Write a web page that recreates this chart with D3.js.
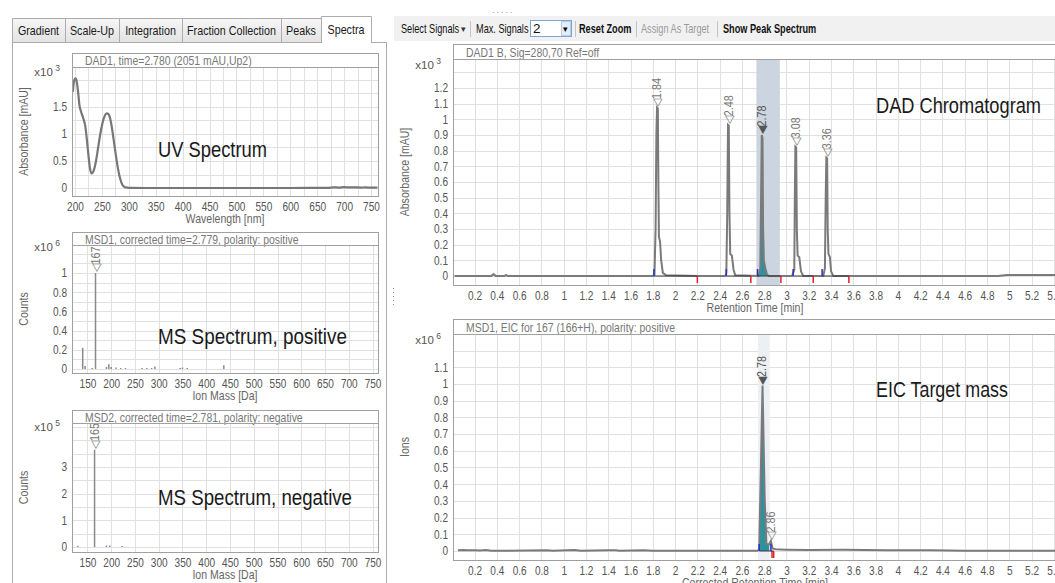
<!DOCTYPE html>
<html>
<head>
<meta charset="utf-8">
<script src="https://cdn.jsdelivr.net/npm/d3@7"></script>
<style>
  body { margin: 0; background: #fff; overflow: hidden; }
  svg { font-family: "Liberation Sans", Arial, sans-serif; }
</style>
</head>
<body>
<div id="drawing"></div>
<script>
// ---- data ----
var tabNames = ["Gradient", "Scale-Up", "Integration", "Fraction Collection", "Peaks", "Spectra"];
var tabEdges = [12, 65, 119, 182, 281, 321, 371];

// UV spectrum (x10^3 mAU)
var uvWavelength = [196, 198, 201, 203, 206, 208, 211, 215, 219, 222, 225, 228, 231, 235, 239, 243, 247, 251, 255, 259, 262, 265, 268, 272, 276, 280, 284, 288, 292, 297, 305, 330, 400, 500, 600, 650, 670, 680, 690, 700, 710, 720, 730, 740, 750, 762];
var uvAbsorbance = [1.78, 1.97, 2.03, 1.98, 1.75, 1.55, 1.42, 1.3, 1.15, 0.9, 0.6, 0.35, 0.27, 0.33, 0.5, 0.75, 1.0, 1.2, 1.33, 1.38, 1.37, 1.3, 1.15, 0.88, 0.6, 0.35, 0.17, 0.06, 0.02, 0.008, 0.003, 0, 0, 0, 0, 0.002, 0.004, 0.012, 0.008, 0.015, 0.01, 0.012, 0.008, 0.01, 0.006, 0.006];
var uvXTicks = [200, 250, 300, 350, 400, 450, 500, 550, 600, 650, 700, 750];
var uvYTicks = [0, 0.5, 1, 1.5];

// MS spectra
var msXTicks = [150, 200, 250, 300, 350, 400, 450, 500, 550, 600, 650, 700, 750];
var msPosMass = [140, 145, 160, 167, 190, 195, 200, 210, 220, 230, 265, 275, 285, 292, 345, 350, 360, 437];
var msPosCounts = [0.22, 0.03, 0.01, 1.0, 0.02, 0.05, 0.02, 0.015, 0.01, 0.01, 0.01, 0.01, 0.01, 0.025, 0.01, 0.015, 0.01, 0.04];
var msPosYTicks = [0, 0.2, 0.4, 0.6, 0.8, 1];
var msPosLabels = [167];
var msNegMass = [130, 165, 190, 197, 223];
var msNegCounts = [0.05, 3.65, 0.06, 0.06, 0.04];
var msNegYTicks = [0, 1, 2, 3];
var msNegLabels = [165];

// DAD chromatogram (x10^3 mAU)
var dadTime = [0.02, 0.35, 0.37, 0.39, 0.47, 0.48, 0.5, 1.8, 1.815, 1.825, 1.832, 1.838, 1.845, 1.85, 1.855, 1.865, 1.875, 1.89, 1.92, 2.2,
  2.45, 2.46, 2.468, 2.475, 2.482, 2.488, 2.495, 2.51, 2.525, 2.54, 2.75, 2.765, 2.772, 2.778, 2.785, 2.79, 2.797, 2.81, 2.825, 2.84,
  3.05, 3.07, 3.075, 3.08, 3.087, 3.093, 3.1, 3.115, 3.13, 3.15, 3.33, 3.345, 3.352, 3.358, 3.365, 3.37, 3.377, 3.39, 3.4, 3.42, 4.9, 4.98, 5.6];
var dadAbs = [0, 0, 0.012, 0, 0, 0.006, 0, 0, 0.01, 0.3, 0.9, 1.075, 1.07, 0.6, 0.25, 0.22, 0.1, 0.02, 0.005, 0,
  0, 0.02, 0.4, 0.965, 0.96, 0.4, 0.14, 0.13, 0.04, 0.005, 0, 0.05, 0.5, 0.9, 0.88, 0.3, 0.1, 0.05, 0.01, 0,
  0, 0.04, 0.5, 0.825, 0.82, 0.3, 0.13, 0.12, 0.03, 0, 0, 0.05, 0.5, 0.755, 0.75, 0.3, 0.14, 0.12, 0.03, 0, 0, 0.006, 0.006];
var dadPeaks = [1.84, 2.48, 2.78, 3.08, 3.36];
var dadPeakStart = [1.81, 2.46, 2.74, 3.06, 3.32];
var dadPeakEnd = [2.2, 2.68, 2.95, 3.24, 3.56];
var dadYTicks = [0, 0.1, 0.2, 0.3, 0.4, 0.5, 0.6, 0.7, 0.8, 0.9, 1, 1.1, 1.2];
var timeTicks = [0.2, 0.4, 0.6, 0.8, 1, 1.2, 1.4, 1.6, 1.8, 2, 2.2, 2.4, 2.6, 2.8, 3, 3.2, 3.4, 3.6, 3.8, 4, 4.2, 4.4, 4.6, 4.8, 5, 5.2, 5.4];

// EIC 167 (x10^6 ions)
var eicTime = [0.05, 0.1, 0.13, 0.2, 0.25, 0.3, 0.35, 0.5, 0.85, 0.9, 1.1, 1.15, 1.4, 1.47, 1.5, 1.72, 1.8, 2.74, 2.755, 2.785, 2.805, 2.82, 2.845, 2.86, 2.875, 2.9, 3.0, 3.2, 3.5, 3.7, 3.9, 4.3, 4.6, 5.6];
var eicIons = [0.004, 0.006, 0.004, 0.005, 0.003, 0.006, 0.002, 0.002, 0.004, 0.002, 0.006, 0.002, 0.005, 0.004, 0.002, 0.005, 0.002, 0.002, 0.01, 0.99, 0.3, 0.04, 0.04, 0.06, 0.015, 0.01, 0.008, 0.006, 0.007, 0.006, 0.004, 0.004, 0.002, 0.002];
var eicPeaks = [2.78, 2.86];
var eicPeakStart = [2.755, 2.86];
var eicPeakEnd = [2.87, 2.885];
var eicYTicks = [0, 0.1, 0.2, 0.3, 0.4, 0.5, 0.6, 0.7, 0.8, 0.9, 1, 1.1];

var chart;
(function (chart) {
    var svg;
    var clipCount = 0;
    var fmt = function (d) { return String(+d.toFixed(2)); };

    function pairs(xs, ys) {
        return xs.map(function (v, i) { return [v, ys[i]]; });
    }

    // the screenshot's UI font is a narrow one; squash the installed sans along the text direction
    function squeeze(sel, k) {
        sel.each(function () {
            var t = d3.select(this);
            var tr = t.attr("transform");
            if (tr) {
                t.attr("transform", tr + " scale(" + k + ",1)");
            } else {
                var x = +t.attr("x") || 0;
                t.attr("transform", "translate(" + x + ",0) scale(" + k + ",1) translate(" + (-x) + ",0)");
            }
        });
    }

    function panel(o) {
        var g = svg.append("g");
        var x = d3.scaleLinear().domain(o.xDomain).range([o.left, o.right]);
        var y = d3.scaleLinear().domain(o.yDomain).range([o.bottom, o.top]);
        var id = "clip" + (clipCount++);
        g.append("clipPath").attr("id", id).append("rect")
            .attr("x", o.left).attr("y", o.top)
            .attr("width", o.right - o.left).attr("height", o.bottom - o.top);

        // title strip
        g.append("rect").attr("x", o.left + 0.5).attr("y", o.titleTop + 0.5)
            .attr("width", o.right - o.left).attr("height", o.top - o.titleTop)
            .attr("fill", "#fff").attr("stroke", "#a0a0a0");
        g.append("text").attr("class", "title").attr("x", o.left + 13).attr("y", (o.titleTop + o.top) / 2 + 1)
            .attr("dy", "0.35em").attr("font-size", 12).attr("fill", "#777").text(o.title);

        // grid
        var grid = g.append("g").attr("stroke", "#e1e1e1").attr("shape-rendering", "crispEdges");
        grid.selectAll(".gx").data(o.xGrid).enter().append("line")
            .attr("x1", function (d) { return Math.round(x(d)) + 0.5; })
            .attr("x2", function (d) { return Math.round(x(d)) + 0.5; })
            .attr("y1", o.top).attr("y2", o.bottom);
        grid.selectAll(".gy").data(o.yGrid).enter().append("line")
            .attr("y1", function (d) { return Math.round(y(d)) + 0.5; })
            .attr("y2", function (d) { return Math.round(y(d)) + 0.5; })
            .attr("x1", o.left).attr("x2", o.right);

        // tick labels
        var ax = g.append("g").attr("transform", "translate(0," + o.bottom + ")")
            .call(d3.axisBottom(x).tickValues(o.xTicks).tickSize(0).tickPadding(6).tickFormat(fmt));
        var ay = g.append("g").attr("transform", "translate(" + o.left + ",0)")
            .call(d3.axisLeft(y).tickValues(o.yTicks).tickSize(0).tickPadding(5).tickFormat(fmt));
        [ax, ay].forEach(function (a) {
            a.select(".domain").remove();
            a.attr("font-family", null).attr("font-size", null);
            a.selectAll("text").attr("class", "tick-label").attr("font-size", 12).attr("fill", "#555");
        });

        var ex = g.append("text").attr("x", o.left - 12).attr("y", o.top + o.expDy)
            .attr("text-anchor", "end").attr("font-size", 11.5).attr("fill", "#555");
        ex.append("tspan").text("x10");
        ex.append("tspan").attr("dy", -5).attr("font-size", 8.5).text(" " + o.exp);

        g.append("text").attr("class", "axis-label")
            .attr("transform", "translate(" + (o.left - 44) + "," + ((o.top + o.bottom) / 2) + ") rotate(-90)")
            .attr("text-anchor", "middle").attr("font-size", 12).attr("fill", "#666").text(o.yLabel);
        g.append("text").attr("class", "axis-label")
            .attr("x", o.xLabelX || (o.left + o.right) / 2).attr("y", o.bottom + 27)
            .attr("text-anchor", "middle").attr("font-size", 12).attr("fill", "#666").text(o.xLabel);

        var body = g.append("g").attr("clip-path", "url(#" + id + ")");
        g.append("rect").attr("x", o.left + 0.5).attr("y", o.top + 0.5)
            .attr("width", o.right - o.left).attr("height", o.bottom - o.top)
            .attr("fill", "none").attr("stroke", "#a0a0a0");
        return { x: x, y: y, body: body };
    }

    function peakLabel(p, t, v, text, filled) {
        p.body.append("text").attr("class", "peak-label")
            .attr("transform", "translate(" + p.x(t) + "," + (p.y(v) - 1) + ") rotate(-90)")
            .attr("dominant-baseline", "central").attr("font-size", 12)
            .attr("fill", filled ? "#555" : "#777")
            .text((filled ? "\u25C0" : "\u25C1") + text);
    }

    function peakTop(xs, ys, t) {
        var m = 0;
        xs.forEach(function (v, i) { if (Math.abs(v - t) < 0.02 && ys[i] > m) m = ys[i]; });
        return m;
    }

    function spectrum(p, mass, counts, labels, width) {
        p.body.selectAll(".bar").data(pairs(mass, counts)).enter().append("line")
            .attr("x1", function (d) { return p.x(d[0]); }).attr("x2", function (d) { return p.x(d[0]); })
            .attr("y1", p.y(0)).attr("y2", function (d) { return p.y(d[1]); })
            .attr("stroke", "#8a8a8a").attr("stroke-width", width);
        labels.forEach(function (m) {
            peakLabel(p, m, counts[mass.indexOf(m)], String(m), false);
        });
    }

    function chromatogram(p, xs, ys, peaks, starts, ends, sel, band, bandColor) {
        var data = pairs(xs, ys);
        p.body.append("rect").attr("x", p.x(band[0])).attr("y", p.y.range()[1])
            .attr("width", p.x(band[1]) - p.x(band[0])).attr("height", p.y.range()[0] - p.y.range()[1])
            .attr("fill", bandColor);
        var inSel = data.filter(function (d) { return d[0] >= sel[0] && d[0] <= sel[1]; });
        p.body.append("path").datum(inSel)
            .attr("d", d3.area().x(function (d) { return p.x(d[0]); }).y0(p.y(0)).y1(function (d) { return p.y(d[1]); }))
            .attr("fill", "#2a93a0");
        p.body.append("path").datum(data)
            .attr("d", d3.line().x(function (d) { return p.x(d[0]); }).y(function (d) { return p.y(d[1]); }))
            .attr("fill", "none").attr("stroke", "#7a7a7a").attr("stroke-width", 2);
        starts.forEach(function (s, i) {
            p.body.append("line").attr("x1", p.x(s)).attr("x2", p.x(ends[i]))
                .attr("y1", p.y(0)).attr("y2", p.y(0)).attr("stroke", "#333").attr("stroke-width", 1);
            p.body.append("line").attr("x1", p.x(s)).attr("x2", p.x(s))
                .attr("y1", p.y(0)).attr("y2", p.y(0) - 7).attr("stroke", "#2233cc").attr("stroke-width", 1.5);
            p.body.append("line").attr("x1", p.x(ends[i])).attr("x2", p.x(ends[i]))
                .attr("y1", p.y(0)).attr("y2", p.y(0) + 7).attr("stroke", "#dd2222").attr("stroke-width", 1.5);
        });
        peaks.forEach(function (t) {
            peakLabel(p, t, peakTop(xs, ys, t), t.toFixed(2), t === 2.78);
        });
    }

    function note(x, y, text, len) {
        svg.append("text").attr("x", x).attr("y", y).attr("font-size", 22).attr("fill", "#1a1a1a")
            .attr("textLength", len).attr("lengthAdjust", "spacingAndGlyphs").text(text);
    }

    function chrome() {
        // tab control
        svg.append("rect").attr("x", 12.5).attr("y", 42.5).attr("width", 374).attr("height", 560)
            .attr("fill", "#fff").attr("stroke", "#acacac");
        var grad = svg.append("defs").append("linearGradient").attr("id", "tabg").attr("x2", 0).attr("y2", 1);
        grad.append("stop").attr("offset", 0).attr("stop-color", "#f6f6f6");
        grad.append("stop").attr("offset", 1).attr("stop-color", "#e3e3e3");
        tabNames.forEach(function (n, i) {
            var sel = n === "Spectra";
            var x0 = tabEdges[i], x1 = tabEdges[i + 1];
            var t0 = sel ? 16 : 18, t1 = sel ? 43 : 42;
            svg.append("path")
                .attr("d", "M" + (x0 + 0.5) + "," + t1 + "V" + (t0 + 0.5) + "H" + (x1 + 0.5) + "V" + t1)
                .attr("fill", sel ? "#fff" : "url(#tabg)").attr("stroke", "#acacac");
            svg.append("text").attr("class", "tab").attr("x", (x0 + x1) / 2).attr("y", sel ? 34 : 35)
                .attr("text-anchor", "middle").attr("font-size", 12.5).attr("fill", "#1a1a1a").text(n);
        });

        // toolbar
        svg.append("rect").attr("x", 394).attr("y", 16).attr("width", 661).attr("height", 25).attr("fill", "#f1f1f1");
        svg.append("text").attr("x", 492).attr("y", 13).attr("font-size", 9).attr("fill", "#999")
            .attr("letter-spacing", 2).text(".....");
        var items = [
            { t: "Select Signals", x: 401, c: "#111", w: null },
            { t: "Max. Signals", x: 476, c: "#111", w: null },
            { t: "Reset Zoom", x: 579, c: "#111", w: "bold" },
            { t: "Assign As Target", x: 641, c: "#9a9a9a", w: null },
            { t: "Show Peak Spectrum", x: 723, c: "#111", w: "bold" }
        ];
        svg.append("rect").attr("x", 530.5).attr("y", 20.5).attr("width", 41).attr("height", 16)
            .attr("fill", "#fff").attr("stroke", "#7aa7d8");
        svg.append("rect").attr("x", 561.5).attr("y", 21.5).attr("width", 9).attr("height", 14)
            .attr("fill", "#e4ecf6").attr("stroke", "#b9cce4");
        svg.append("text").attr("x", 563).attr("y", 32).attr("font-size", 9).text("\u25BE");
        svg.append("text").attr("x", 461).attr("y", 32).attr("font-size", 9).attr("fill", "#333").text("\u25BE");
        svg.append("text").attr("x", 533).attr("y", 33).attr("font-size", 13.5).attr("fill", "#111").text("2");
        items.forEach(function (d) {
            svg.append("text").attr("class", "tool").attr("x", d.x).attr("y", 33).attr("font-size", 13.5)
                .attr("font-weight", d.w).attr("fill", d.c).text(d.t);
        });
        [470, 575, 636, 717].forEach(function (x) {
            svg.append("line").attr("x1", x + 0.5).attr("x2", x + 0.5).attr("y1", 21).attr("y2", 37).attr("stroke", "#c4c4c4");
        });
        // splitter dots
        [288, 292, 296, 300, 304].forEach(function (y) {
            svg.append("rect").attr("x", 393).attr("y", y).attr("width", 1).attr("height", 1).attr("fill", "#888");
        });
    }

    function main() {
        svg = d3.select("#drawing").append("svg").attr("width", 1055).attr("height", 583);
        chrome();

        var uv = panel({
            left: 72, right: 378, titleTop: 53, top: 67, bottom: 196,
            xDomain: [194.4, 763], yDomain: [-0.148, 2.24],
            xTicks: uvXTicks, yTicks: uvYTicks,
            xGrid: d3.range(200, 751, 25), yGrid: d3.range(0, 2.01, 0.25),
            exp: "3", expDy: 9, title: "DAD1, time=2.780 (2051 mAU,Up2)",
            yLabel: "Absorbance [mAU]", xLabel: "Wavelength [nm]"
        });
        uv.body.append("path").datum(pairs(uvWavelength, uvAbsorbance))
            .attr("d", d3.line().curve(d3.curveMonotoneX).x(function (d) { return uv.x(d[0]); }).y(function (d) { return uv.y(d[1]); }))
            .attr("fill", "none").attr("stroke", "#777").attr("stroke-width", 2.2);

        var pos = panel({
            left: 72, right: 378, titleTop: 232, top: 245, bottom: 373,
            xDomain: [117.5, 761.5], yDomain: [-0.042, 1.292],
            xTicks: msXTicks, yTicks: msPosYTicks,
            xGrid: d3.range(150, 751, 50), yGrid: d3.range(0, 1.25, 0.1),
            exp: "6", expDy: 6, title: "MSD1, corrected time=2.779,  polarity: positive",
            yLabel: "Counts", xLabel: "Ion Mass [Da]"
        });
        spectrum(pos, msPosMass, msPosCounts, msPosLabels, 1.5);

        var neg = panel({
            left: 72, right: 378, titleTop: 410, top: 423, bottom: 552,
            xDomain: [117.5, 761.5], yDomain: [-0.1875, 4.65],
            xTicks: msXTicks, yTicks: msNegYTicks,
            xGrid: d3.range(150, 751, 50), yGrid: d3.range(0, 4.6, 0.5),
            exp: "5", expDy: 8, title: "MSD2, corrected time=2.781,  polarity: negative",
            yLabel: "Counts", xLabel: "Ion Mass [Da]"
        });
        spectrum(neg, msNegMass, msNegCounts, msNegLabels, 1.5);

        var dad = panel({
            left: 453, right: 1075, titleTop: 44, top: 59, bottom: 285,
            xDomain: [0.0063, 5.59], yDomain: [-0.0574, 1.385],
            xTicks: timeTicks, yTicks: dadYTicks,
            xGrid: timeTicks, yGrid: d3.range(0, 1.35, 0.1),
            exp: "3", expDy: 10, title: "DAD1 B, Sig=280,70 Ref=off",
            yLabel: "Absorbance [mAU]", xLabel: "Retention Time [min]", xLabelX: 755
        });
        chromatogram(dad, dadTime, dadAbs, dadPeaks, dadPeakStart, dadPeakEnd, [2.75, 2.84], [2.73, 2.94], "#cbd4df");

        var eic = panel({
            left: 453, right: 1075, titleTop: 319, top: 334, bottom: 560,
            xDomain: [0.0063, 5.59], yDomain: [-0.0539, 1.299],
            xTicks: timeTicks, yTicks: eicYTicks,
            xGrid: timeTicks, yGrid: d3.range(0, 1.25, 0.1),
            exp: "6", expDy: 10, title: "MSD1, EIC for 167 (166+H), polarity: positive",
            yLabel: "Ions", xLabel: "Corrected Retention Time [min]", xLabelX: 755
        });
        chromatogram(eic, eicTime, eicIons, eicPeaks, eicPeakStart, eicPeakEnd, [2.755, 2.845], [2.745, 2.85], "#eceff4");

        note(158, 157, "UV Spectrum", 109);
        note(158, 344, "MS Spectrum, positive", 189);
        note(158, 505, "MS Spectrum, negative", 194);
        note(876, 113, "DAD Chromatogram", 165);
        note(876, 397, "EIC Target mass", 132);

        squeeze(svg.selectAll(".tab"), 0.86);
        squeeze(svg.selectAll(".tool"), 0.68);
        squeeze(svg.selectAll(".title"), 0.87);
        squeeze(svg.selectAll(".tick-label"), 0.84);
        squeeze(svg.selectAll(".axis-label"), 0.88);
        squeeze(svg.selectAll(".peak-label"), 0.9);
    }
    chart.main = main;
})(chart || (chart = {}));
chart.main();
</script>
</body>
</html>
